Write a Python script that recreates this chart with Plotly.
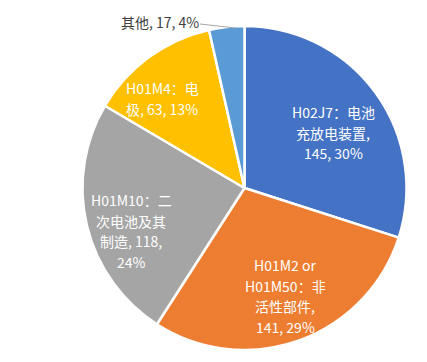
import plotly.graph_objects as go

W, H = 427, 362

categories = ["H02J7：电池充放电装置", "H01M2 or H01M50：非活性部件",
              "H01M10：二次电池及其制造", "H01M4：电极", "其他"]
values = [145, 141, 118, 63, 17]
percents = ["30%", "29%", "24%", "13%", "4%"]
# label text as it is wrapped in the reference, one list per slice
label_lines = [
    ["H02J7：电池", "充放电装置,", f"{values[0]}, {percents[0]}"],
    ["H01M2 or", "H01M50：非", "活性部件,", f"{values[1]}, {percents[1]}"],
    ["H01M10：二", "次电池及其", f"制造, {values[2]},", percents[2]],
    ["H01M4：电", f"极, {values[3]}, {percents[3]}"],
    [f"其他, {values[4]}, {percents[4]}"],
]
colors = ["#4472C4", "#ED7D31", "#A5A5A5", "#FFC000", "#5B9BD5"]

# layout: label anchor (pixel centre x, first-line y) and line gap
label_pos = [(333, 112), (285, 265), (131, 200), (162, 88), (160, 22)]
line_gap = 20.5
label_colors = ["#FFFFFF"] * 4 + ["#404040"]

cx, cy, r = 244.5, 188, 162

fig = go.Figure(go.Pie(
    labels=categories, values=values, sort=False, direction="clockwise",
    rotation=0, textinfo="none", hoverinfo="label+value+percent",
    marker=dict(colors=colors, line=dict(color="#FFFFFF", width=2.5)),
    domain=dict(x=[(cx - r) / W, (cx + r) / W],
                y=[(H - cy - r) / H, (H - cy + r) / H]),
    showlegend=False,
))

font_family = "Noto Sans CJK SC, Noto Sans, sans-serif"
for lines, (px, py), col in zip(label_lines, label_pos, label_colors):
    for i, ln in enumerate(lines):
        y = py + i * line_gap
        fig.add_annotation(x=px / W, y=1 - y / H, xref="paper", yref="paper",
                           text=ln, showarrow=False,
                           xanchor="center", yanchor="middle",
                           font=dict(family=font_family, size=14, color=col))

# leader line for the small slice
fig.add_shape(type="line", xref="paper", yref="paper",
              x0=200 / W, y0=1 - 24 / H, x1=236 / W, y1=1 - 28 / H,
              line=dict(color="#A6A6A6", width=1))

fig.update_layout(width=W, height=H, margin=dict(l=0, r=0, t=0, b=0),
                  paper_bgcolor="#FFFFFF", plot_bgcolor="#FFFFFF")
fig.write_html("out.html", config={"displayModeBar": False},
               post_script="document.body.style.margin='0';document.body.style.overflow='hidden';")
